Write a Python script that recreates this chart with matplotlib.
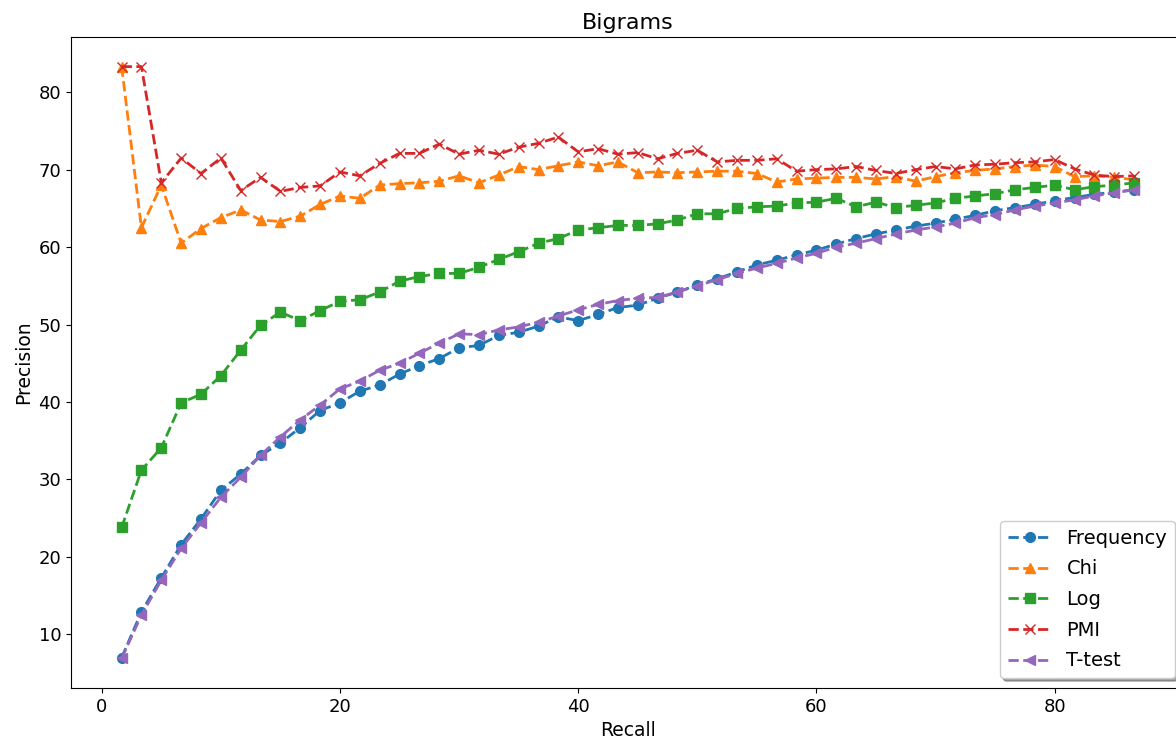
import matplotlib
matplotlib.use("Agg")
import matplotlib.pyplot as plt

recall = [1.67, 3.33, 5.0, 6.67, 8.33, 10.0, 11.67, 13.33, 15.0, 16.67,
          18.33, 20.0, 21.67, 23.33, 25.0, 26.67, 28.33, 30.0, 31.67, 33.33,
          35.0, 36.67, 38.33, 40.0, 41.67, 43.33, 45.0, 46.67, 48.33, 50.0,
          51.67, 53.33, 55.0, 56.67, 58.33, 60.0, 61.67, 63.33, 65.0, 66.67,
          68.33, 70.0, 71.67, 73.33, 75.0, 76.67, 78.33, 80.0, 81.67, 83.33,
          85.0, 86.67]

frequency = [7.0, 12.9, 17.3, 21.6, 24.9, 28.6, 30.7, 33.1, 34.7, 36.7,
             38.9, 39.9, 41.4, 42.2, 43.6, 44.7, 45.6, 47.0, 47.3, 48.6,
             49.0, 49.8, 51.0, 50.5, 51.3, 52.2, 52.5, 53.4, 54.2, 55.1,
             55.9, 56.8, 57.7, 58.3, 59.0, 59.6, 60.4, 61.1, 61.7, 62.2,
             62.7, 63.1, 63.6, 64.1, 64.7, 65.1, 65.5, 66.0, 66.4, 66.8,
             67.1, 67.4]

chi = [83.3, 62.5, 68.0, 60.5, 62.4, 63.8, 64.8, 63.5, 63.3, 64.0,
       65.5, 66.6, 66.3, 68.0, 68.2, 68.3, 68.5, 69.2, 68.3, 69.3,
       70.4, 70.0, 70.5, 71.0, 70.5, 71.0, 69.6, 69.7, 69.6, 69.7,
       69.8, 69.8, 69.5, 68.4, 68.8, 68.9, 69.0, 69.0, 68.8, 69.1,
       68.5, 69.1, 69.6, 69.9, 70.1, 70.4, 70.6, 70.4, 69.1, 69.2,
       69.0, 68.7]

log = [23.8, 31.2, 34.1, 39.9, 41.0, 43.4, 46.7, 49.9, 51.6, 50.5,
       51.8, 53.0, 53.2, 54.2, 55.6, 56.2, 56.6, 56.6, 57.4, 58.4,
       59.4, 60.5, 61.1, 62.2, 62.5, 62.8, 62.8, 63.0, 63.5, 64.3,
       64.3, 65.0, 65.2, 65.3, 65.7, 65.8, 66.3, 65.2, 65.8, 65.1,
       65.4, 65.7, 66.3, 66.6, 66.9, 67.4, 67.7, 68.0, 67.4, 67.8,
       68.0, 68.3]

pmi = [83.3, 83.3, 68.3, 71.5, 69.5, 71.5, 67.3, 69.0, 67.2, 67.7,
       67.9, 69.7, 69.2, 70.8, 72.1, 72.1, 73.3, 72.0, 72.5, 72.0,
       72.9, 73.4, 74.2, 72.3, 72.7, 72.0, 72.2, 71.4, 72.1, 72.5,
       71.0, 71.2, 71.2, 71.4, 69.8, 70.0, 70.1, 70.4, 69.9, 69.5,
       70.0, 70.4, 70.1, 70.6, 70.7, 70.9, 71.0, 71.3, 70.1, 69.3,
       69.1, 69.2]

ttest = [6.9, 12.5, 17.0, 21.1, 24.4, 27.7, 30.3, 33.1, 35.5, 37.7,
         39.6, 41.7, 42.7, 44.1, 45.0, 46.3, 47.6, 48.8, 48.7, 49.3,
         49.7, 50.3, 51.1, 51.9, 52.6, 53.1, 53.4, 53.5, 54.2, 55.0,
         55.8, 56.6, 57.3, 57.9, 58.6, 59.2, 60.0, 60.5, 61.1, 61.7,
         62.2, 62.6, 63.1, 63.8, 64.2, 64.8, 65.3, 65.7, 66.1, 66.6,
         67.0, 67.4]

series = [("Frequency", frequency, "o"), ("Chi", chi, "^"), ("Log", log, "s"),
          ("PMI", pmi, "x"), ("T-test", ttest, "<")]

fig = plt.figure(figsize=(11.76, 7.42), dpi=100)
ax = fig.add_axes([0.0604, 0.0728, 0.947, 0.8773])
for name, vals, mk in series:
    ax.plot(recall, vals, linestyle="--", marker=mk, label=name,
            linewidth=2.0, markersize=7)

ax.set_title("Bigrams", fontsize=16)
ax.set_xlabel("Recall", fontsize=13.5)
ax.set_ylabel("Precision", fontsize=13.5)
ax.tick_params(labelsize=13)
ax.legend(loc="lower right", shadow=True, fontsize=14, labelspacing=0.6,
          handlelength=2.2)

fig.savefig("out.png", dpi=100)
